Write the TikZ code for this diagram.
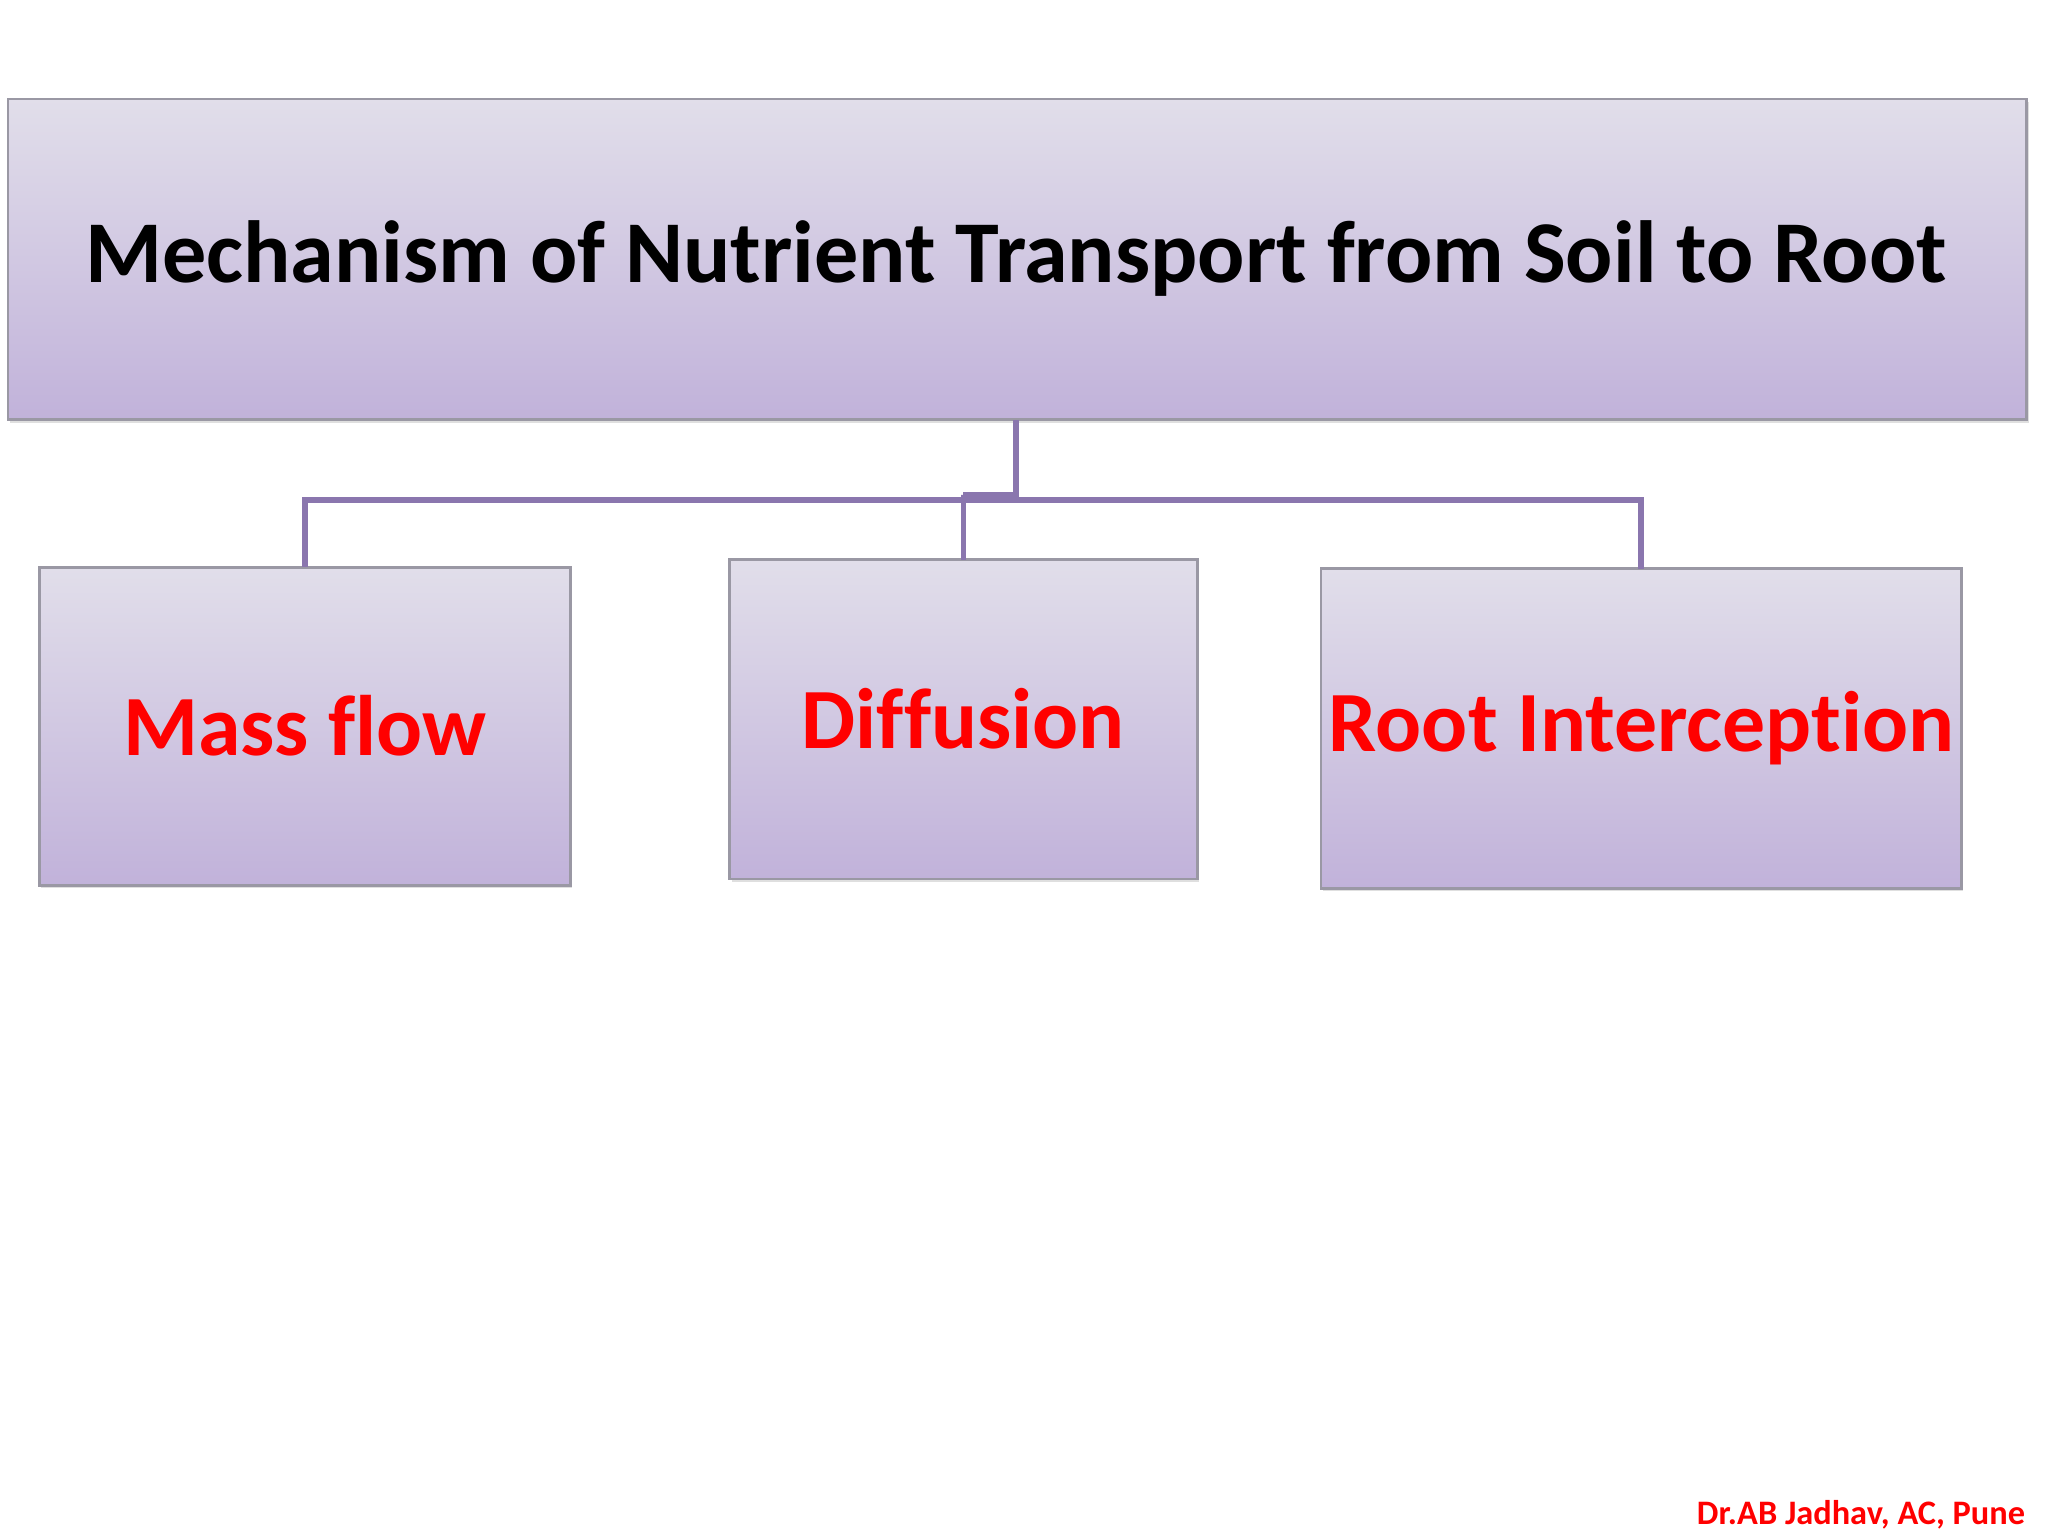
\documentclass[tikz,border=0pt]{standalone}
\usepackage{fontspec}
\setmainfont{Carlito}[Ligatures=NoCommon]
\usetikzlibrary{shadows}
\definecolor{boxtop}{HTML}{E1DEEA}
\definecolor{boxbot}{HTML}{C1B2DA}
\definecolor{boxline}{HTML}{9A98A4}
\definecolor{conn}{HTML}{8A76AE}
\definecolor{lblred}{HTML}{FF0000}
\tikzset{
  pbox/.style={draw=boxline, line width=0.6pt, top color=boxtop, bottom color=boxbot, inner sep=0pt, outer sep=0pt,
     drop shadow={shadow xshift=0.4pt, shadow yshift=-0.6pt, opacity=0.25}},
  conline/.style={draw=conn, line width=1.2pt},
  lbl/.style={font=\bfseries\fontsize{18.5}{22}\selectfont, text=lblred}
}
\begin{document}
\begin{tikzpicture}[x=0.01cm,y=-0.01cm]
\useasboundingbox[fill=white] (0,0) rectangle (1552,1164);
\node[pbox, minimum width=15.29cm, minimum height=2.43cm, anchor=north west] (title) at (6,75) {};
\node[font=\bfseries\fontsize{19}{23}\selectfont] (ttext) at (770,196) {Mechanism of Nutrient Transport from Soil to Root};
\node[pbox, minimum width=4.02cm, minimum height=2.41cm, anchor=north west] (mass) at (30,430) {};
\node[lbl] (tmass) at (231,550) {Mass flow};
\node[pbox, minimum width=3.54cm, minimum height=2.42cm, anchor=north west] (diff) at (553,424) {};
\node[lbl] (tdiff) at (730,545) {Diffusion};
\node[pbox, minimum width=4.85cm, minimum height=2.42cm, anchor=north west] (root) at (1001,431) {};
\node[lbl] (troot) at (1244,552) {Root Interception};
\coordinate (j) at (770,379);
\coordinate (k) at (730,375);
\draw[conline] (j |- title.south) -- (j);
\draw[conline] (j) -| (mass.north);
\draw[conline] (j) -| (root.north);
\draw[conline] (k) -| (diff.north);
\draw[conline] (k) -- (k -| j);
\node[anchor=east, font=\bfseries\fontsize{7.4}{9}\selectfont, text=lblred] (foot) at (1547,1148) {Dr.AB Jadhav, AC, Pune};
\end{tikzpicture}
\end{document}
